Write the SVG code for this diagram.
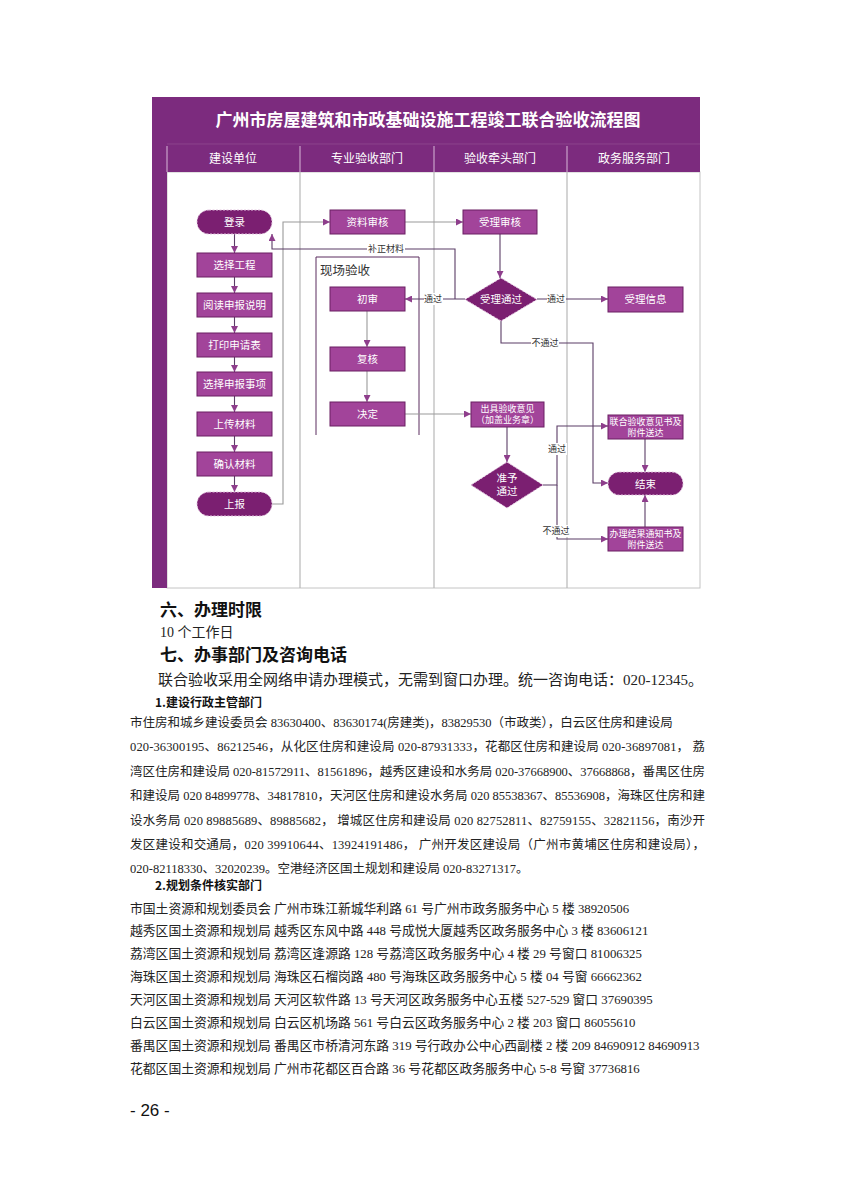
<svg xmlns="http://www.w3.org/2000/svg" width="847" height="1200" viewBox="0 0 847 1200">
<style>
.cn{font-family:"Noto Sans CJK SC","Liberation Sans",sans-serif}
.band{fill:#7C2B7E}
.box{fill:#A2449A;stroke:#6a1f63;stroke-width:1}
.term{fill:#7B1F71;stroke:#e2c4df;stroke-width:1;stroke-dasharray:2 1.5}
.nt{font-family:"Noto Sans CJK SC",sans-serif;font-size:10.5px;fill:#fff;text-anchor:middle}
.nt2{font-family:"Noto Sans CJK SC",sans-serif;font-size:9px;fill:#fff;text-anchor:middle}
.lane{stroke:#b8b8b8;stroke-width:1.2;fill:none}
.c{fill:none;stroke:#5b3d66;stroke-width:1.1}
.cg{fill:none;stroke:#9a9a9a;stroke-width:1.1}
.lb{font-family:"Noto Sans CJK SC",sans-serif;font-size:9px;fill:#333;text-anchor:middle}
.lbbg{fill:#fff}
.hd{font-family:"Noto Sans CJK SC",sans-serif;font-size:17px;font-weight:bold;fill:#111}
.sh{font-family:"Noto Sans CJK SC",sans-serif;font-size:12px;font-weight:bold;fill:#111}
.p{font-family:"Liberation Serif","Noto Sans CJK SC",serif;font-size:12.5px;fill:#222}
.pl{font-family:"Liberation Serif","Noto Sans CJK SC",serif;font-size:12.8px;fill:#222}
.p14{font-family:"Liberation Serif","Noto Sans CJK SC",serif;font-size:14px;fill:#222}
.p15{font-family:"Liberation Serif","Noto Sans CJK SC",serif;font-size:15px;fill:#222}
</style>
<defs>
<marker id="ah" viewBox="0 0 10 10" refX="10" refY="5" markerWidth="7" markerHeight="7" orient="auto" markerUnits="userSpaceOnUse"><path d="M0,0 L10,5 L0,10 z" fill="#8e3e8c"/></marker>
</defs>
<rect width="847" height="1200" fill="#fff"/>

<g id="frame">
<rect x="167" y="172" width="533" height="416" fill="#fff" stroke="#c4c4c4" stroke-width="1"/>
<rect class="band" x="152" y="97" width="548" height="75"/>
<rect class="band" x="152" y="97" width="15" height="491"/>
<line x1="167" y1="144" x2="700" y2="144" stroke="#8f4a90" stroke-width="0.8"/>
<g stroke="#d8b8d8" stroke-width="1">
<line x1="167" y1="146" x2="167" y2="172"/>
<line x1="300" y1="146" x2="300" y2="172"/>
<line x1="434" y1="146" x2="434" y2="172"/>
<line x1="567" y1="146" x2="567" y2="172"/>
</g>
<line class="lane" x1="300" y1="172" x2="300" y2="588"/>
<line class="lane" x1="434" y1="172" x2="434" y2="588"/>
<line class="lane" x1="567" y1="172" x2="567" y2="588"/>
<text x="428" y="126" class="cn" font-size="17" font-weight="bold" fill="#fff" text-anchor="middle">广州市房屋建筑和市政基础设施工程竣工联合验收流程图</text>
<g class="cn" font-size="12" fill="#fff" text-anchor="middle">
<text x="233" y="163">建设单位</text>
<text x="367" y="163">专业验收部门</text>
<text x="500" y="163">验收牵头部门</text>
<text x="634" y="163">政务服务部门</text>
</g>
</g>

<g id="group-xcys">
<path d="M316,435 V257 H419 V435" fill="none" stroke="#5a2d5f" stroke-width="1"/>
<text x="320" y="275" class="cn" font-size="12.5" fill="#333">现场验收</text>
</g>

<g id="connectors">
<path class="c" marker-end="url(#ah)" d="M234.5,234 V253"/>
<path class="c" marker-end="url(#ah)" d="M234.5,277 V293"/>
<path class="c" marker-end="url(#ah)" d="M234.5,317 V333"/>
<path class="c" marker-end="url(#ah)" d="M234.5,357 V372"/>
<path class="c" marker-end="url(#ah)" d="M234.5,396 V412"/>
<path class="c" marker-end="url(#ah)" d="M234.5,436 V452"/>
<path class="c" marker-end="url(#ah)" d="M234.5,476 V492"/>
<path class="cg" marker-end="url(#ah)" d="M272,504 H283 V222 H330"/>
<path class="cg" marker-end="url(#ah)" d="M405,222 H463"/>
<path class="c" stroke="#8e3e8c" marker-end="url(#ah)" d="M500,234 V278"/>
<path class="c" marker-end="url(#ah)" d="M465,299 H405"/>
<path class="c" marker-end="url(#ah)" d="M455,299 V249 H272 V234"/>
<path class="c" marker-end="url(#ah)" d="M537,299 H608"/>
<path class="c" marker-end="url(#ah)" d="M501,321 V343 H593 V483 H608"/>
<path class="cg" marker-end="url(#ah)" d="M367,311 V347"/>
<path class="cg" marker-end="url(#ah)" d="M367,371 V402"/>
<path class="cg" marker-end="url(#ah)" d="M405,414 H471"/>
<path class="c" stroke="#8e3e8c" marker-end="url(#ah)" d="M507,427 V462"/>
<path class="c" marker-end="url(#ah)" d="M543,485 H557 V426 H608"/>
<path class="c" marker-end="url(#ah)" d="M557,485 V539 H608"/>
<path class="c" marker-end="url(#ah)" d="M645,439 V472"/>
<path class="c" marker-end="url(#ah)" d="M645,527 V495"/>
<rect class="lbbg" x="367" y="243" width="38" height="12"/>
<text class="lb" x="386" y="252">补正材料</text>
<rect class="lbbg" x="424" y="293" width="19" height="12"/>
<text class="lb" x="433" y="302">通过</text>
<rect class="lbbg" x="547" y="293" width="19" height="12"/>
<text class="lb" x="556" y="302">通过</text>
<rect class="lbbg" x="531" y="337" width="28" height="12"/>
<text class="lb" x="545" y="346">不通过</text>
<rect class="lbbg" x="548" y="443" width="19" height="12"/>
<text class="lb" x="557" y="452">通过</text>
<rect class="lbbg" x="542" y="525" width="28" height="12"/>
<text class="lb" x="556" y="534">不通过</text>
</g>

<g id="n-login"><rect class="term" x="197" y="210" width="75" height="24" rx="12"/><text class="nt" x="234.5" y="226">登录</text></g>
<g id="n-xzgc"><rect class="box" x="197" y="253" width="75" height="24"/><text class="nt" x="234.5" y="269">选择工程</text></g>
<g id="n-ydsb"><rect class="box" x="197" y="293" width="75" height="24"/><text class="nt" x="234.5" y="309">阅读申报说明</text></g>
<g id="n-dysq"><rect class="box" x="197" y="333" width="75" height="24"/><text class="nt" x="234.5" y="349">打印申请表</text></g>
<g id="n-xzsx"><rect class="box" x="197" y="372" width="75" height="24"/><text class="nt" x="234.5" y="388">选择申报事项</text></g>
<g id="n-sccl"><rect class="box" x="197" y="412" width="75" height="24"/><text class="nt" x="234.5" y="428">上传材料</text></g>
<g id="n-qrcl"><rect class="box" x="197" y="452" width="75" height="24"/><text class="nt" x="234.5" y="468">确认材料</text></g>
<g id="n-sb"><rect class="term" x="197" y="492" width="75" height="24" rx="12"/><text class="nt" x="234.5" y="508">上报</text></g>

<g id="n-zlsh"><rect class="box" x="330" y="210" width="75" height="24"/><text class="nt" x="367.5" y="226">资料审核</text></g>
<g id="n-cs"><rect class="box" x="330" y="287" width="75" height="24"/><text class="nt" x="367.5" y="303">初审</text></g>
<g id="n-fh"><rect class="box" x="330" y="347" width="75" height="24"/><text class="nt" x="367.5" y="363">复核</text></g>
<g id="n-jd"><rect class="box" x="330" y="402" width="75" height="24"/><text class="nt" x="367.5" y="418">决定</text></g>

<g id="n-slsh"><rect class="box" x="463" y="210" width="74" height="24"/><text class="nt" x="500" y="226">受理审核</text></g>
<g id="n-sltg"><polygon class="term" points="501,278 537,299.5 501,321 465,299.5"/><text class="nt" x="501" y="303">受理通过</text></g>
<g id="n-cjys"><rect class="box" x="471" y="402" width="73" height="25"/><text class="nt2" x="507.5" y="412">出具验收意见</text><text class="nt2" x="507.5" y="423">（加盖业务章）</text></g>
<g id="n-zytg"><polygon class="term" points="507,462 543,485 507,508 471,485"/><text class="nt" x="507" y="482">准予</text><text class="nt" x="507" y="495">通过</text></g>

<g id="n-slxx"><rect class="box" x="608" y="287" width="75" height="25"/><text class="nt" x="645.5" y="303">受理信息</text></g>
<g id="n-lhys"><rect class="box" x="608" y="415" width="75" height="24"/><text class="nt2" x="645.5" y="425">联合验收意见书及</text><text class="nt2" x="645.5" y="436">附件送达</text></g>
<g id="n-end"><rect class="term" x="608" y="472" width="75" height="23" rx="11.5"/><text class="nt" x="645.5" y="487.5">结束</text></g>
<g id="n-bljg"><rect class="box" x="608" y="527" width="75" height="24"/><text class="nt2" x="645.5" y="537">办理结果通知书及</text><text class="nt2" x="645.5" y="548">附件送达</text></g>

<g id="body-text">
<text class="hd" x="160" y="616">六、办理时限</text>
<text class="p14" x="160" y="637">10 个工作日</text>
<text class="hd" x="160" y="661">七、办事部门及咨询电话</text>
<text class="p15" x="158" y="685">联合验收采用全网络申请办理模式，无需到窗口办理。统一咨询电话：020-12345。</text>
<text class="sh" x="155" y="707">1.建设行政主管部门</text>
<text class="p" x="130" y="726.5">市住房和城乡建设委员会 83630400、83630174(房建类)，83829530（市政类），白云区住房和建设局</text>
<text class="p" x="130" y="750.5" textLength="575" lengthAdjust="spacing">020-36300195、86212546，从化区住房和建设局 020-87931333，花都区住房和建设局 020-36897081， 荔</text>
<text class="p" x="130" y="775.5" textLength="575" lengthAdjust="spacing">湾区住房和建设局 020-81572911、81561896，越秀区建设和水务局 020-37668900、37668868，番禺区住房</text>
<text class="p" x="130" y="799.5" textLength="575" lengthAdjust="spacing">和建设局 020 84899778、34817810，天河区住房和建设水务局 020 85538367、85536908，海珠区住房和建</text>
<text class="p" x="130" y="824.5" textLength="575" lengthAdjust="spacing">设水务局 020 89885689、89885682， 增城区住房和建设局 020 82752811、82759155、32821156，南沙开</text>
<text class="p" x="130" y="848.5" textLength="575" lengthAdjust="spacing">发区建设和交通局，020 39910644、13924191486， 广州开发区建设局（广州市黄埔区住房和建设局），</text>
<text class="p" x="130" y="872.5">020-82118330、32020239。空港经济区国土规划和建设局 020-83271317。</text>
<text class="sh" x="155" y="890">2.规划条件核实部门</text>
<text class="pl" x="130" y="912.5">市国土资源和规划委员会 广州市珠江新城华利路 61 号广州市政务服务中心 5 楼 38920506</text>
<text class="pl" x="130" y="934.5">越秀区国土资源和规划局 越秀区东风中路 448 号成悦大厦越秀区政务服务中心 3 楼 83606121</text>
<text class="pl" x="130" y="957.5">荔湾区国土资源和规划局 荔湾区逢源路 128 号荔湾区政务服务中心 4 楼 29 号窗口 81006325</text>
<text class="pl" x="130" y="980.5">海珠区国土资源和规划局 海珠区石榴岗路 480 号海珠区政务服务中心 5 楼 04 号窗 66662362</text>
<text class="pl" x="130" y="1003.5">天河区国土资源和规划局 天河区软件路 13 号天河区政务服务中心五楼 527-529 窗口 37690395</text>
<text class="pl" x="130" y="1026.5">白云区国土资源和规划局 白云区机场路 561 号白云区政务服务中心 2 楼 203 窗口 86055610</text>
<text class="pl" x="130" y="1049.5">番禺区国土资源和规划局 番禺区市桥清河东路 319 号行政办公中心西副楼 2 楼 209 84690912 84690913</text>
<text class="pl" x="130" y="1072.5">花都区国土资源和规划局 广州市花都区百合路 36 号花都区政务服务中心 5-8 号窗 37736816</text>
<text x="130" y="1116" font-family="Liberation Sans,sans-serif" font-size="17" fill="#111">- 26 -</text>
</g>
</svg>
